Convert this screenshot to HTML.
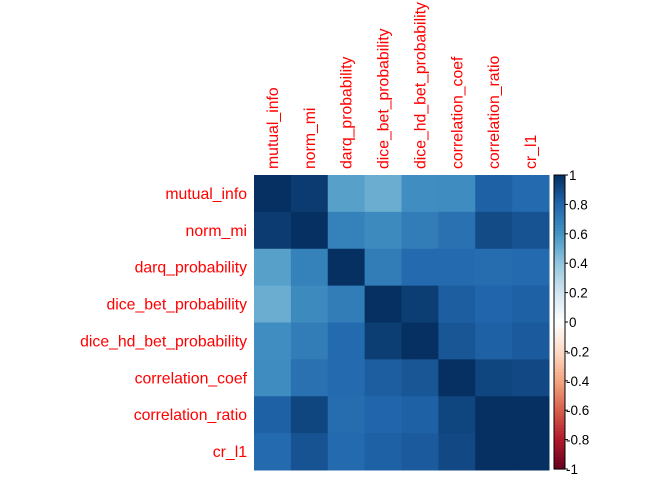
<!DOCTYPE html>
<html><head><meta charset="utf-8"><style>body{margin:0;background:#fff}svg{display:block}</style></head>
<body>
<svg id="c" width="672" height="480" xmlns="http://www.w3.org/2000/svg" font-family="Liberation Sans, sans-serif"></svg>
<script>
const labels = ["mutual_info","norm_mi","darq_probability","dice_bet_probability","dice_hd_bet_probability","correlation_coef","correlation_ratio","cr_l1"];
const row0 = [1,0.96,0.55,0.5,0.62,0.63,0.82,0.78];
const row1 = [0.96,1,0.68,0.64,0.7,0.75,0.9,0.87];
const row2 = [0.55,0.68,1,0.7,0.78,0.78,0.77,0.78];
const row3 = [0.5,0.64,0.7,1,0.95,0.83,0.8,0.82];
const row4 = [0.62,0.7,0.78,0.95,1,0.86,0.82,0.84];
const row5 = [0.63,0.75,0.78,0.83,0.86,1,0.92,0.91];
const row6 = [0.82,0.92,0.77,0.8,0.82,0.92,1,1];
const row7 = [0.78,0.87,0.78,0.82,0.84,0.91,1,1];
const matrix = [row0,row1,row2,row3,row4,row5,row6,row7];
const cbTicks = [1,0.8,0.6,0.4,0.2,0,-0.2,-0.4,-0.6,-0.8,-1];
const cbLabels = ["1","0.8","0.6","0.4","0.2","0","-0.2","-0.4","-0.6","-0.8","-1"];

const stops=["#67001F","#B2182B","#D6604D","#F4A582","#FDDBC7","#FFFFFF","#D1E5F0","#92C5DE","#4393C3","#2166AC","#053061"];
function hex(h){return [1,3,5].map(i=>parseInt(h.substr(i,2),16));}
function col(v){const t=(v+1)/2*10;const i=Math.min(9,Math.floor(t));const f=t-i;const a=hex(stops[i]),b=hex(stops[i+1]);return "rgb("+a.map((x,k)=>Math.round(x+(b[k]-x)*f)).join(",")+")";}
const svg=document.getElementById('c');const NS="http://www.w3.org/2000/svg";
function mk(t,attrs,txt){const e=document.createElementNS(NS,t);for(const k in attrs)e.setAttribute(k,attrs[k]);if(txt!==undefined)e.textContent=txt;svg.appendChild(e);return e;}
const x0=254,y0=175,W=295,n=labels.length,cs=W/n;
const xs=i=>x0+i*cs, ys=i=>y0+i*cs;
matrix.forEach((r,i)=>r.forEach((v,j)=>{
 const e=mk('rect',{x:xs(j),y:ys(i),width:cs+0.5,height:cs+0.5,fill:col(v)});
 
 
}));
labels.forEach((l,i)=>{
 const t=mk('text',{x:247,y:ys(i)+cs/2+5.5,'text-anchor':'end','font-size':15.8,fill:'#FF0000'},l);
 
 
 const cx=xs(i)+cs/2+5.5;
 const c=mk('text',{x:cx,y:169,transform:'rotate(-90 '+cx+' 169)','font-size':15.8,fill:'#FF0000'},l);
 
 
});
const cbx=554,cbw=11,cbh=294;
const N=100;
for(let k=0;k<N;k++){const v=1-2*(k+0.5)/N;const r=mk('rect',{x:cbx,y:y0+k*cbh/N,width:cbw,height:cbh/N+0.6,fill:col(v)});
 
 }
const bd=mk('rect',{x:cbx,y:y0,width:cbw,height:cbh,fill:'none',stroke:'#000','stroke-width':1});


const cy=v=>y0+(1-v)/2*cbh;
cbTicks.forEach((v,i)=>{
 const ln=mk('line',{x1:cbx+cbw,x2:cbx+cbw+3,y1:cy(v),y2:cy(v),stroke:'#000'});
 
 
 const t=mk('text',{x:v<0?566:569,y:cy(v)+5,'font-size':13.5,fill:'#000'},cbLabels[i]);
 
 
});
</script>
</body></html>
